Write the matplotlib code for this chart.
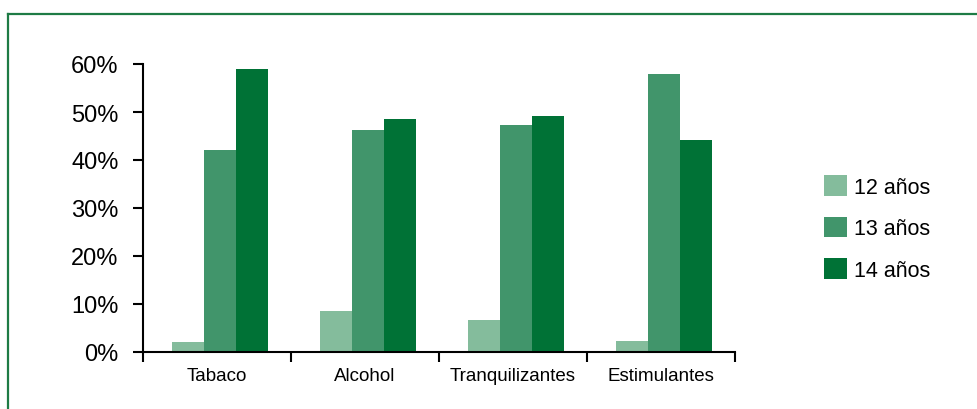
import numpy as np
import matplotlib.pyplot as plt
from matplotlib.lines import Line2D

plt.rcParams['font.family'] = ['Liberation Sans', 'DejaVu Sans']

categorias = ['Tabaco', 'Alcohol', 'Tranquilizantes', 'Estimulantes']
series = ['12 años', '13 años', '14 años']
v12 = [2.1, 8.5, 6.7, 2.3]
v13 = [42.1, 46.2, 47.3, 57.9]
v14 = [59.0, 48.5, 49.2, 44.2]
colores = ['#84bc9c', '#41956b', '#007236']
verde_borde = '#1e7b45'

fig = plt.figure(figsize=(9.78, 4.10), dpi=100)
W, H = 978, 410

# marco verde (solo arriba e izquierda visibles)
fig.add_artist(Line2D([8 / W, 8 / W], [0, 1 - 15 / H], color=verde_borde, lw=1.6,
                      transform=fig.transFigure))
fig.add_artist(Line2D([8 / W, 1], [1 - 15 / H, 1 - 15 / H], color=verde_borde, lw=1.6,
                      transform=fig.transFigure))

ax = fig.add_axes([143 / W, (H - 353) / H, (735 - 143) / W, (353 - 65) / H])

x = np.arange(len(categorias))
w = 0.216
for i, (vals, lab) in enumerate(zip([v12, v13, v14], series)):
    ax.bar(x + (i - 1) * w + 0.02, np.array(vals) / 100, width=w, color=colores[i],
           label=lab, linewidth=0)

ax.set_xlim(-0.5, len(categorias) - 0.5)
ax.set_ylim(0, 0.6)
ax.set_yticks(np.arange(0, 0.61, 0.1))
ax.set_yticklabels([f'{int(round(t * 100))}%' for t in np.arange(0, 0.61, 0.1)], fontsize=17)
ax.set_xticks(x)
ax.set_xticklabels(categorias, fontsize=13.5)
ax.set_xticks(np.arange(-0.5, len(categorias), 1), minor=True)
ax.tick_params(axis='x', which='major', length=0, pad=11)
ax.tick_params(axis='x', which='minor', length=7, width=1.5, direction='out')
ax.tick_params(axis='y', length=7, width=1.5, direction='out', pad=10.5)

for s in ['top', 'right']:
    ax.spines[s].set_visible(False)
for s in ['left', 'bottom']:
    ax.spines[s].set_linewidth(1.5)

ax.legend(loc='center left', bbox_to_anchor=(813 / W, (H - 229) / H),
          bbox_transform=fig.transFigure, frameon=False, fontsize=15.5,
          handlelength=1.1, handleheight=1.1, handletextpad=0.3, labelspacing=0.87,
          borderaxespad=0, borderpad=0.5)

fig.savefig('out.png', dpi=100)
